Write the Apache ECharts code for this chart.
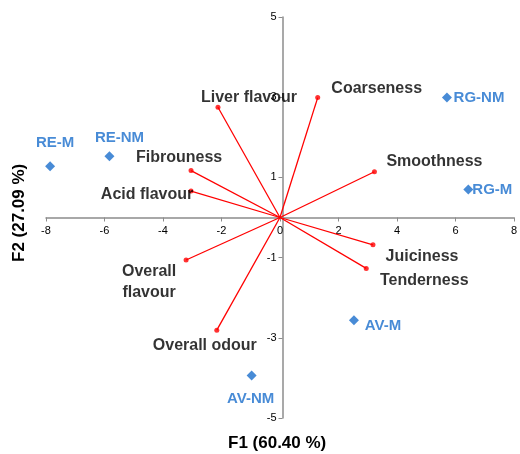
<!DOCTYPE html>
<html>
<head>
<meta charset="utf-8">
<script src="https://cdn.jsdelivr.net/npm/echarts@6/dist/echarts.min.js"></script>
<style>html,body{margin:0;padding:0;background:#fff}#c{width:520px;height:454px}</style>
</head>
<body>
<div id="c"></div>
<script>
// Observations (F1, F2)
var obsNames = ['RE-M', 'RE-NM', 'RG-NM', 'RG-M', 'AV-M', 'AV-NM'];
var obsF1 = [-7.86, -5.83, 5.71, 6.44, 2.53, -0.97];
var obsF2 = [1.28, 1.53, 2.99, 0.70, -2.56, -3.94];

// Variables (vector endpoints)
var varNames = ['Liver flavour', 'Coarseness', 'Smoothness', 'Fibrouness', 'Acid flavour', 'Overall\nflavour', 'Overall odour', 'Juiciness', 'Tenderness'];
var varF1 = [-2.12, 1.29, 3.23, -3.04, -3.04, -3.21, -2.16, 3.18, 2.95];
var varF2 = [2.75, 2.99, 1.14, 1.17, 0.66, -1.06, -2.81, -0.68, -1.27];

// Axis ticks
var xTicks = [-8, -6, -4, -2, 0, 2, 4, 6, 8];
var yTicks = [-5, -3, -1, 1, 3, 5];

// Label offsets (styling only)
var obsLabelOffset = {'RE-M':[5,-23],'RE-NM':[10,-18],'RG-NM':[32,0],'RG-M':[24,0],'AV-M':[29,6],'AV-NM':[-1,23]};
var varLabelOffset = {'Liver flavour':[31,-10],'Coarseness':[59,-9],'Smoothness':[60,-10],'Fibrouness':[-12,-13],'Acid flavour':[-44,4],'Overall\nflavour':[-37,22],'Overall odour':[-12,15],'Juiciness':[49,12],'Tenderness':[58,12]};

var FONT = 'Liberation Sans, Arial, sans-serif';
var BLUE = '#1a6ecc';
var RED = '#ff0000';
var AXIS = '#8c8c8c';

var GRID = {left: 46, right: 1, top: 17, bottom: 36};
var W = 520, H = 454;
var gw = W - GRID.left - GRID.right, gh = H - GRID.top - GRID.bottom;

var series = [];
for (var i = 0; i < varNames.length; i++) {
  series.push({
    type: 'line',
    data: [[0, 0], [varF1[i], varF2[i]]],
    showSymbol: false,
    silent: true,
    lineStyle: {color: RED, width: 1.3},
    z: 3
  });
}
series.push({
  type: 'scatter',
  symbol: 'circle',
  symbolSize: 5,
  itemStyle: {color: RED},
  z: 4,
  data: varNames.map(function (n, i) {
    return {
      name: n,
      value: [varF1[i], varF2[i]],
      label: {show: true, position: 'inside', offset: varLabelOffset[n], align: 'center', verticalAlign: 'middle'}
    };
  }),
  label: {formatter: '{b}', color: '#000', fontFamily: FONT, fontWeight: 'bold', fontSize: 16, lineHeight: 21}
});
series.push({
  type: 'scatter',
  symbol: 'diamond',
  symbolSize: 10,
  itemStyle: {color: BLUE},
  z: 5,
  data: obsNames.map(function (n, i) {
    return {
      name: n,
      value: [obsF1[i], obsF2[i]],
      label: {show: true, position: 'inside', offset: obsLabelOffset[n], align: 'center', verticalAlign: 'middle'}
    };
  }),
  label: {formatter: '{b}', color: BLUE, fontFamily: FONT, fontWeight: 'bold', fontSize: 15}
});

var chart = echarts.init(document.getElementById('c'), null, {renderer: 'canvas'});
chart.setOption({
  animation: false,
  backgroundColor: '#fff',
  grid: {left: GRID.left, right: GRID.right, top: GRID.top, bottom: GRID.bottom, containLabel: false},
  xAxis: {
    type: 'value', min: xTicks[0], max: xTicks[xTicks.length - 1], interval: 2,
    position: 'bottom',
    offset: -gh / 2,
    axisLine: {onZero: false, lineStyle: {color: AXIS, width: 1.5}},
    axisTick: {show: true, length: 4, lineStyle: {color: AXIS}},
    splitLine: {show: false},
    axisLabel: {fontFamily: FONT, fontSize: 11, color: '#000', margin: 8}
  },
  yAxis: {
    type: 'value', min: yTicks[0], max: yTicks[yTicks.length - 1], interval: 2,
    position: 'left',
    offset: -gw / 2,
    axisLine: {onZero: false, lineStyle: {color: AXIS, width: 1.5}},
    axisTick: {show: true, length: 4, lineStyle: {color: AXIS}},
    splitLine: {show: false},
    axisLabel: {fontFamily: FONT, fontSize: 11, color: '#000', margin: 6}
  },
  graphic: [
    {type: 'text', left: 228, top: 435, z: 10, style: {text: 'F1 (60.40 %)', font: 'bold 17px ' + FONT, fill: '#000'}},
    {type: 'text', x: 11, y: 262, rotation: Math.PI / 2, z: 10, style: {text: 'F2 (27.09 %)', font: 'bold 17px ' + FONT, fill: '#000'}}
  ],
  series: series
});
</script>
</body>
</html>
